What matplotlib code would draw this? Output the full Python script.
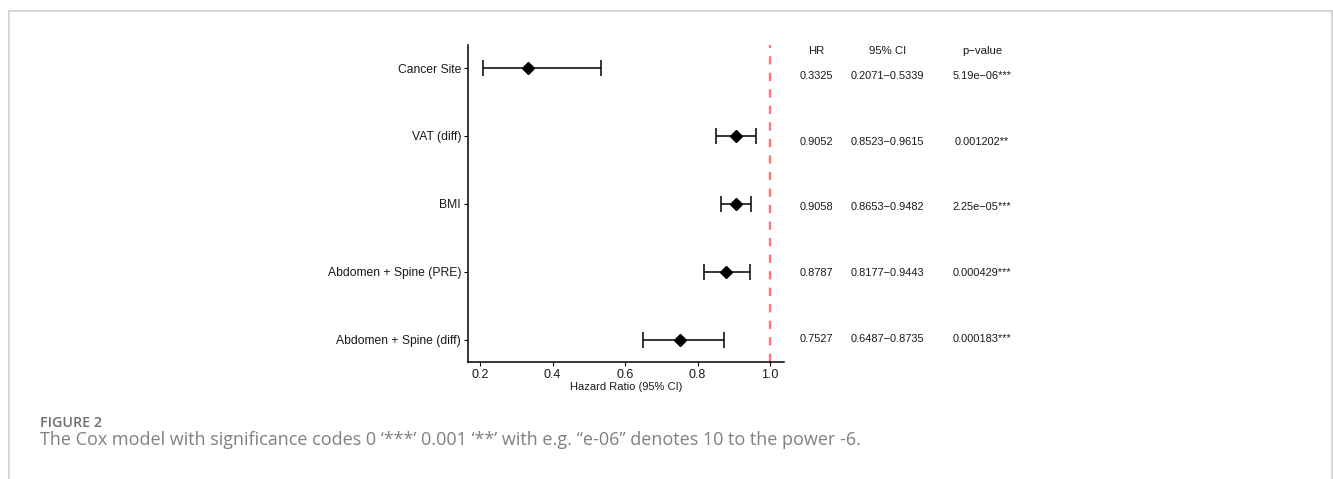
import matplotlib
matplotlib.use("Agg")
import matplotlib.pyplot as plt
from matplotlib.lines import Line2D
import numpy as np

# data, top row first
labels = ["Cancer Site", "VAT (diff)", "BMI", "Abdomen + Spine (PRE)", "Abdomen + Spine (diff)"]
hr = [0.3325, 0.9052, 0.9058, 0.8787, 0.7527]
ci_lo = [0.2071, 0.8523, 0.8653, 0.8177, 0.6487]
ci_hi = [0.5339, 0.9615, 0.9482, 0.9443, 0.8735]
pvals = ["5.19e\u221206***", "0.001202**", "2.25e\u221205***", "0.000429***", "0.000183***"]
xticks = [0.2, 0.4, 0.6, 0.8, 1.0]

plt.rcParams['font.family'] = ['Liberation Sans', 'DejaVu Sans']

W, H = 1333, 479
fig = plt.figure(figsize=(W / 100, H / 100), dpi=100)

def px_rect(x0, y0, x1, y1):
    # pixel box -> figure fraction [left, bottom, width, height]
    return [x0 / W, 1 - y1 / H, (x1 - x0) / W, (y1 - y0) / H]

ax = fig.add_axes(px_rect(468, 45, 784, 362))
ypos = np.arange(len(labels), 0, -1)

ax.axvline(1.0, color='#FF7474', lw=1.7, linestyle=(0, (3.5, 3.5)), zorder=1)
lo_err = np.array(hr) - np.array(ci_lo)
hi_err = np.array(ci_hi) - np.array(hr)
ax.errorbar(hr, ypos, xerr=[lo_err, hi_err], fmt='D', color='black', ms=6.5,
            elinewidth=1.1, capsize=6, capthick=1.1, zorder=3)

ax.set_xlim(0.1669, 1.0386)
ax.set_ylim(0.67, 5.34)
ax.set_xticks(xticks)
ax.set_xticklabels([f"{t:.1f}" for t in xticks])
ax.set_yticks(ypos)
ax.set_yticklabels(labels)
ax.tick_params(axis='x', labelsize=9, length=3, width=0.8, colors='black', pad=2)
ax.tick_params(axis='y', labelsize=8.7, length=3, width=0.8, colors='black', pad=2)
for t in ax.get_yticklabels() + ax.get_xticklabels():
    t.set_color('#1a1a1a')
for s in ['top', 'right']:
    ax.spines[s].set_visible(False)
for s in ['left', 'bottom']:
    ax.spines[s].set_linewidth(1.1)
ax.set_xlabel("Hazard Ratio (95% CI)", fontsize=8, labelpad=1, color='#1a1a1a')

# table with HR / CI / p-value
tab = fig.add_axes(px_rect(790, 45, 1010, 362))
tab.set_xlim(0, 1)
tab.set_ylim(0.65, 5.467)
tab.axis('off')
cols = [0.118, 0.443, 0.873]
heads = ["HR", "95% CI", "p\u2212value"]
for cx, h in zip(cols, heads):
    tab.text(cx, 5.37, h, ha='center', va='center', fontsize=8.2, color='#1a1a1a')
for y, h, lo, hi, p in zip(ypos, hr, ci_lo, ci_hi, pvals):
    tab.text(cols[0], y, f"{h:.4f}", ha='center', va='center', fontsize=7.9, color='#1a1a1a')
    tab.text(cols[1], y, f"{lo:.4f}\u2212{hi:.4f}", ha='center', va='center', fontsize=7.9, color='#1a1a1a')
    tab.text(cols[2], y, p, ha='center', va='center', fontsize=7.9, color='#1a1a1a')

# frame lines of the figure panel
border = '#cccccc'
fig.add_artist(Line2D([9 / W, 1332 / W], [1 - 11 / H, 1 - 11 / H], color=border, lw=1.1))
fig.add_artist(Line2D([9 / W, 9 / W], [0, 1 - 11 / H], color=border, lw=1.1))
fig.add_artist(Line2D([1332 / W, 1332 / W], [0, 1 - 11 / H], color=border, lw=1.1))

fig.text(40 / W, 1 - 423 / H, "FIGURE 2", fontsize=10.3, fontweight='semibold',
         color='#6e6e6e', family=['Open Sans', 'DejaVu Sans'], va='center')
fig.text(40 / W, 1 - 440 / H,
         "The Cox model with significance codes 0 \u2018***\u2019 0.001 \u2018**\u2019 with e.g. \u201ce-06\u201d denotes 10 to the power -6.",
         fontsize=13, color='#808080', family=['Open Sans', 'DejaVu Sans'], va='center')

fig.savefig("out.png", dpi=100)
